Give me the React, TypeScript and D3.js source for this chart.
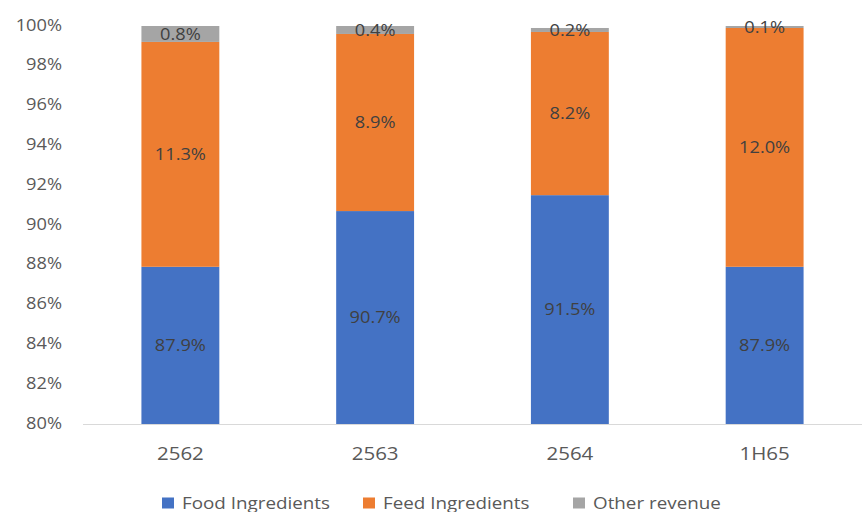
import React from "react";
import * as d3 from "d3";

const categories = ["2562", "2563", "2564", "1H65"];
const food = [87.9, 90.7, 91.5, 87.9];
const feed = [11.3, 8.9, 8.2, 12.0];
const other = [0.8, 0.4, 0.2, 0.1];
const seriesNames = ["Food Ingredients", "Feed Ingredients", "Other revenue"];
const seriesColors = ["#4472c4", "#ed7d31", "#a5a5a5"];
const yTicks = [80, 82, 84, 86, 88, 90, 92, 94, 96, 98, 100];

const W = 865;
const H = 512;
const FONT = "'Open Sans', 'Liberation Sans', sans-serif";
const SX = 1.14;

function T(props: { x: number; y: number; size: number; anchor?: string; fill?: string; children: any }) {
  const { x, y, size, anchor = "start", fill = "#595959", children } = props;
  return (
    <text
      transform={`translate(${x},${y}) scale(${SX},1)`}
      dy="0.35em"
      textAnchor={anchor}
      fontSize={size}
      fill={fill}
      fontFamily={FONT}
    >
      {children}
    </text>
  );
}

export default function App() {
  const x = d3.scaleBand<string>().domain(categories).range([83, 862]).paddingInner(0.6).paddingOuter(0.3);
  const y = d3.scaleLinear().domain([80, 100]).range([424, 26]);
  const series = [food, feed, other];

  const segs: any[] = [];
  categories.forEach((c, i) => {
    let base = 0;
    series.forEach((s, k) => {
      const v0 = base;
      const v1 = base + s[i];
      base = v1;
      const lo = Math.max(v0, 80);
      const hi = Math.min(v1, 100);
      segs.push({ c, k, v: s[i], lo, hi });
    });
  });

  const legendX = [162, 363, 573];

  return (
    <svg width={W} height={H} style={{ display: "block", position: "absolute", left: 0, top: 0 }}>
      <rect width={W} height={H} fill="#ffffff" />
      {yTicks.map((t) => (
        <T key={t} x={62} y={y(t) - 1} size={16} anchor="end">
          {t}%
        </T>
      ))}
      {segs.map((s, i) => (
        <rect
          key={i}
          x={x(s.c)}
          width={x.bandwidth()}
          y={y(s.hi)}
          height={Math.max(0, y(s.lo) - y(s.hi))}
          fill={seriesColors[s.k]}
        />
      ))}
      <line x1={83} x2={862} y1={y(80) + 0.5} y2={y(80) + 0.5} stroke="#d9d9d9" strokeWidth={1} />
      {segs.map((s, i) => (
        <T
          key={"l" + i}
          x={(x(s.c) as number) + x.bandwidth() / 2}
          y={(y(s.lo) + y(s.hi)) / 2}
          size={16}
          anchor="middle"
          fill="#404040"
        >
          {s.v.toFixed(1)}%
        </T>
      ))}
      {categories.map((c) => (
        <T key={c} x={(x(c) as number) + x.bandwidth() / 2} y={454} size={18} anchor="middle">
          {c}
        </T>
      ))}
      {seriesNames.map((n, k) => (
        <g key={n} transform={`translate(${legendX[k]},503)`}>
          <rect x={0} y={-5.5} width={12} height={11} fill={seriesColors[k]} />
          <T x={20} y={0} size={16.5}>
            {n}
          </T>
        </g>
      ))}
    </svg>
  );
}
